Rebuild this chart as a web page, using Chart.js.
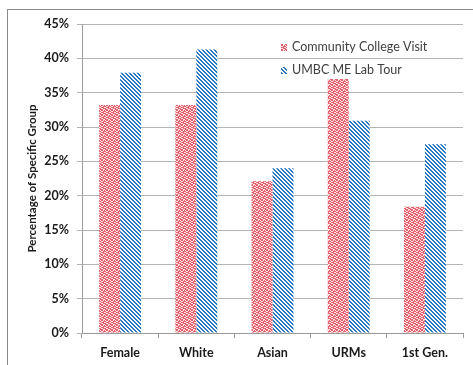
<!DOCTYPE html>
<html>
<head>
<meta charset="utf-8">
<script src="https://cdn.jsdelivr.net/npm/chart.js@4.4.1/dist/chart.umd.min.js"></script>
<style>
  html, body { margin: 0; padding: 0; background: #ffffff; }
  #wrap { position: relative; width: 473px; height: 365px; }
</style>
</head>
<body>
<div id="wrap"><canvas id="c" width="473" height="365"></canvas></div>
<script>
// Share of each group (%)
const categories = ['Female', 'White', 'Asian', 'URMs', '1st Gen.'];
const communityCollegeVisit = [33.2, 33.2, 22.1, 37.0, 18.4];
const umbcLabTour = [37.9, 41.3, 24.0, 30.9, 27.5];
const seriesNames = ['Community College Visit', 'UMBC ME Lab Tour'];
const yTicks = { min: 0, max: 45, step: 5 };

// Fill patterns: red speckled texture and blue diagonal hatching
function dotPattern() {
  const t = document.createElement('canvas');
  t.width = 5; t.height = 5;
  const g = t.getContext('2d');
  g.fillStyle = '#e4606c';
  g.fillRect(0, 0, 5, 5);
  g.fillStyle = '#fbe6e8';
  [[0,0],[2,1],[4,2],[1,3],[3,4],[3,0],[0,2],[2,3],[4,4],[1,1]].forEach(([x,y]) => g.fillRect(x, y, 1, 1));
  return g.createPattern(t, 'repeat');
}
function hatchPattern() {
  const t = document.createElement('canvas');
  t.width = 4; t.height = 4;
  const g = t.getContext('2d');
  g.fillStyle = '#ffffff';
  g.fillRect(0, 0, 4, 4);
  g.fillStyle = '#2a76c0';
  for (let y = 0; y < 4; y++) {
    for (let x = 0; x < 4; x++) {
      const d = ((x - y) % 4 + 4) % 4;
      if (d === 0 || d === 1) g.fillRect(x, y, 1, 1);
    }
  }
  return g.createPattern(t, 'repeat');
}
const redFill = dotPattern();
const blueFill = hatchPattern();

const FONT = 'Lato, "Open Sans", sans-serif';

// Outer frame around the chart
const framePlugin = {
  id: 'frame',
  beforeDraw(chart) {
    const ctx = chart.ctx;
    ctx.save();
    ctx.strokeStyle = '#8a8a8a';
    ctx.lineWidth = 1;
    ctx.strokeRect(7.5, 9.5, 480, 400);
    ctx.restore();
  }
};

// Legend drawn inside the plot area, upper right
const innerLegend = {
  id: 'innerLegend',
  afterDraw(chart) {
    const ctx = chart.ctx;
    const rows = [
      { y: 47, fill: chart.data.datasets[0].backgroundColor, text: chart.data.datasets[0].label },
      { y: 70, fill: chart.data.datasets[1].backgroundColor, text: chart.data.datasets[1].label }
    ];
    ctx.save();
    ctx.font = '12.5px ' + FONT;
    ctx.textBaseline = 'middle';
    rows.forEach(r => {
      ctx.fillStyle = r.fill;
      ctx.fillRect(281, r.y - 3, 6, 7);
      ctx.fillStyle = '#404040';
      ctx.fillText(r.text, 292, r.y);
    });
    ctx.restore();
  }
};

new Chart(document.getElementById('c'), {
  type: 'bar',
  data: {
    labels: categories,
    datasets: [
      { label: seriesNames[0], data: communityCollegeVisit, backgroundColor: redFill, borderWidth: 0 },
      { label: seriesNames[1], data: umbcLabTour, backgroundColor: blueFill, borderWidth: 0 }
    ]
  },
  options: {
    responsive: false,
    animation: false,
    events: [],
    layout: { padding: { left: 0, top: 24, right: 10, bottom: 0 } },
    datasets: { bar: { barPercentage: 1.0, categoryPercentage: 0.55 } },
    plugins: { legend: { display: false }, tooltip: { enabled: false } },
    scales: {
      x: {
        grid: { display: true, offset: true, drawOnChartArea: false, tickLength: 5, color: '#9a9a9a' },
        border: { color: '#9a9a9a' },
        ticks: { color: '#1a1a1a', padding: 7, font: { family: FONT, weight: 'bold', size: 12.5 } },
        afterFit(s) { s.height = 32; }
      },
      y: {
        min: yTicks.min, max: yTicks.max,
        grid: { color: '#b4b4b4', tickLength: 5 },
        border: { color: '#9a9a9a' },
        ticks: {
          stepSize: yTicks.step, color: '#1a1a1a', padding: 8,
          font: { family: FONT, weight: 'bold', size: 12.5 },
          callback: v => v + '%'
        },
        title: {
          display: true, text: 'Percentage of Specific Group', color: '#1a1a1a',
          font: { family: FONT, weight: 'bold', size: 11.5 },
          padding: { top: 25, bottom: 0 }
        },
        afterFit(s) { s.width = 82; }
      }
    }
  },
  plugins: [framePlugin, innerLegend]
});
</script>
</body>
</html>
